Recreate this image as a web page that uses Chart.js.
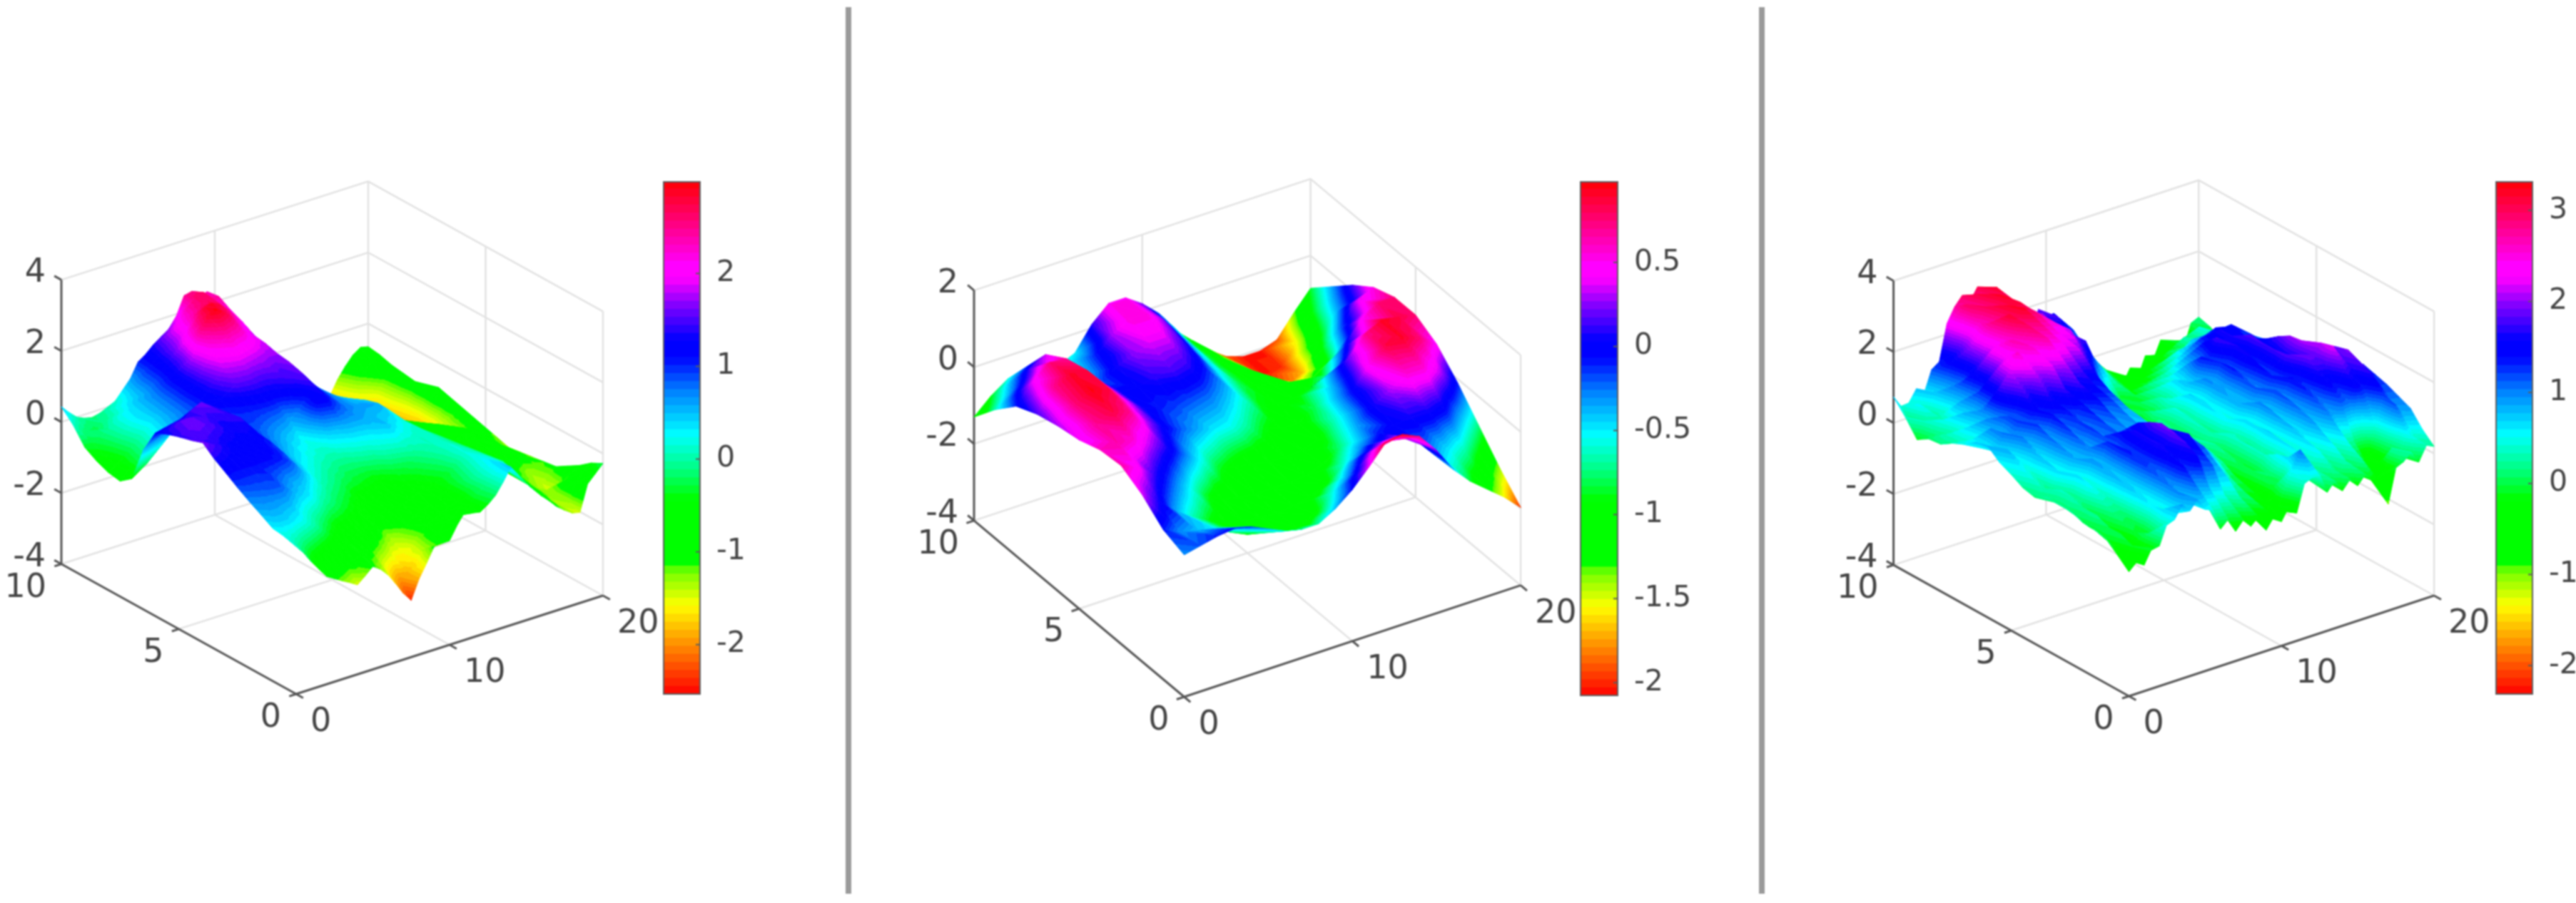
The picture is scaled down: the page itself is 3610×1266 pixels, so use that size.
<!DOCTYPE html>
<html>
<head>
<meta charset="utf-8">
<script src="https://cdn.jsdelivr.net/npm/chart.js@4"></script>
<style>
html, body { margin: 0; background: #fff; }
canvas { position: absolute; filter: blur(0.8px); }
</style>
</head>
<body>
<canvas id="surfaces" width="3610" height="1266" style="left:0;top:0"></canvas>
<canvas id="bar0" style="left:929px;top:254px"></canvas>
<canvas id="bar1" style="left:2214px;top:254px"></canvas>
<canvas id="bar2" style="left:3497px;top:254px"></canvas>
<script>
// tick labels
const xTicks = [0, 10, 20];
const yTicks = [0, 5, 10];
const zTicksA = [-4, -2, 0, 2, 4];
const zTicksB = [-4, -2, 0, 2];
const barTicksA = [-2, -1, 0, 1, 2];
const barTicksB = [-2, -1.5, -1, -0.5, 0, 0.5];
const barTicksC = [-2, -1, 0, 1, 2, 3];

// surface heights, rows from y=10 down to y=0, columns from x=0 to x=20
const heightsA = [
  [.43,.2,0,-.1,-.15, -.1,0,.1,.35,.6, 1,1.15,1.35,1.5,1.65, 1.95,2.45,2.5,2.3,2.35, 1.9,1.75,1.3,1.2,.5, .3,-.2,-.4,-.8,-1, -1.2,-1.4,-1.5,-1.75,-1.95, -1.7,-1.3,-1,-.75,-.6, -.65],
  [.1,-.1,-.2,-.25,-.1, 0,.2,.3,.5,.8, 1.05,1.25,1.5,1.85,2.1, 2.4,2.6,2.65,2.45,2.4, 2,1.7,1.4,1.05,.6, .2,-.1,-.35,-.7,-.9, -1.1,-1.3,-1.45,-1.6,-1.8, -1.75,-1.6,-1.3,-1,-.8, -.7],
  [-.35,-.3,-.2,-.05,.1, .25,.35,.5,.6,.85, 1.1,1.35,1.7,2,2.35, 2.55,2.65,2.6,2.35,2.2, 1.75,1.5,1.2,.85,.45, .1,-.2,-.4,-.7,-.85, -1.1,-1.2,-1.4,-1.5,-1.5, -1.6,-1.65,-1.7,-1.6,-1.2, -.8],
  [-.55,-.45,-.3,-.1,.1, .3,.4,.55,.75,1, 1.2,1.5,2.1,2.5,2.8, 2.85,2.75,2.55,2.3,2.05, 1.7,1.4,1.1,.75,.35, .05,-.2,-.4,-.6,-.8, -1,-1.1,-1.3,-1.4,-1.55, -1.65,-1.7,-1.8,-1.7,-1.3, -.85],
  [-.69,-.55,-.4,-.2,0, .2,.4,.6,.8,1.05, 1.3,1.8,2.5,2.8,2.95, 2.8,2.6,2.3,2.05,1.85, 1.55,1.25,.9,.6,.3, .05,-.2,-.4,-.6,-.75, -.9,-1.05,-1.2,-1.3,-1.4, -1.5,-1.6,-1.85,-1.85,-1.5, -.9],
  [-.75,-.55,-.3,-.1,.1, .3,.5,.65,.85,1.1, 1.3,1.7,2.05,2.2,2.35, 2.25,2.2,2.05,1.9,1.8, 1.5,1.2,.9,.6,.3, 0,-.2,-.35,-.55,-.7, -.85,-.95,-1.1,-1.2,-1.35, -1.5,-1.65,-1.9,-2,-1.65, -.8],
  [-.5,-.35,-.2,0,.2, .4,.6,.75,.9,1.1, 1.3,1.55,1.8,1.85,1.9, 1.85,1.8,1.75,1.7,1.7, 1.35,1.05,.8,.55,.3, .05,-.2,-.35,-.5,-.65, -.8,-.9,-1,-1.1,-1.2, -1.35,-1.5,-1.8,-2.05,-1.6, -.7],
  [.5,.6,.75,.85,.9, 1.05,1.1,1.15,1.1,1.15, 1.2,1.35,1.5,1.55,1.55, 1.5,1.5,1.55,1.5,1.65, 1.3,1.05,.8,.6,.4, .2,0,-.2,-.35,-.5, -.7,-.75,-.85,-1,-1.15, -1.3,-1.5,-1.7,-1.9,-1.4, -.8],
  [1.15,1.2,1.25,1.3,1.35, 1.5,1.6,1.45,1.25,1.1, 1,1.05,1.1,1.15,1.2, 1.2,1.25,1.35,1.45,1.55, 1.2,1,.8,.65,.5, .4,.3,.05,-.2,-.4, -.6,-.65,-.7,-.8,-.9, -1.15,-1.4,-1.55,-1.7,-1.2, -.9],
  [1.3,1.45,1.55,1.55,1.5, 1.45,1.4,1.45,1.35,1.15, .95,.95,.9,.85,.8, .75,.6,.75,1.05,1.4, 1.15,.95,.75,.65,.55, .5,.45,.3,0,-.2, -.55,-.6,-.65,-.7,-.75, -.9,-1.05,-1.15,-1.35,-1.1, -1],
  [1.41,1.5,1.6,1.55,1.5, 1.4,1.3,1.35,1.4,1.15, .9,.8,.7,.6,.5, .4,.25,.6,1.15,1.25, 1,.85,.7,.65,.6, .6,.55,.35,.1,-.2, -.5,-.55,-.6,-.6,-.6, -.7,-.8,-.9,-1,-1.05, -1.1],
  [1.5,1.45,1.45,1.4,1.35, 1.3,1.25,1.3,1.25,1.05, .8,.7,.55,.45,.3, .25,.15,.15,.4,.5, .6,.6,.6,.55,.5, .45,.4,.25,.1,-.1, -.35,-.45,-.55,-.55,-.65, -.7,-.75,-.85,-1,-1.1, -1.2],
  [1.63,1.5,1.4,1.3,1.2, 1.2,1.2,1.2,1.1,1, .7,.55,.4,.3,.2, .1,.05,0,0,.1, .2,.25,.3,.4,.5, .35,.25,.15,.1,-.05, -.2,-.35,-.5,-.55,-.6, -.65,-.7,-.85,-1,-1.15, -1.3],
  [1.35,1.3,1.25,1.2,1.15, 1.15,1.15,1.15,1.05,.9, .6,.45,.25,.15,.05, -.05,-.1,-.2,-.2,-.2, -.15,-.1,.05,.1,.15, .1,.1,.05,.1,0, -.15,-.3,-.5,-.6,-.65, -.7,-.75,-.9,-1,-1.1, -1.25],
  [1.13,1.1,1.1,1.1,1.1, 1.1,1.1,1.05,.95,.75, .5,.3,.1,0,-.1, -.2,-.3,-.35,-.4,-.45, -.5,-.4,-.3,-.25,-.2, -.1,0,.05,.1,0, -.1,-.3,-.5,-.6,-.7, -.75,-.8,-.9,-1,-1.1, -1.2],
  [.9,.95,.95,.95,1, .85,.75,.6,.55,.4, .2,.05,-.1,-.2,-.3, -.4,-.6,-.7,-.7,-.65, -.65,-.6,-.5,-.45,-.35, -.25,-.15,0,.15,.05, -.05,-.25,-.5,-.7,-.85, -.95,-1.05,-1.2,-1.3,-1.2, -1.15],
  [.69,.75,.8,.85,.85, .7,.5,.4,.3,.1, -.1,-.2,-.3,-.4,-.5, -.7,-.9,-.85,-.8,-.8, -.8,-.7,-.6,-.55,-.5, -.4,-.3,-.1,.15,.1, 0,-.2,-.5,-.7,-.9, -1.05,-1.2,-1.3,-1.4,-1.25, -1.1],
  [.5,.6,.6,.55,.5, .3,.15,0,-.15,-.35, -.5,-.55,-.6,-.75,-.85, -.95,-1.2,-1.35,-1.2,-1.1, -.9,-.85,-.75,-.6,-.55, -.35,-.2,0,.2,.15, .05,-.15,-.45,-.7,-.9, -1.1,-1.25,-1.4,-1.5,-1.2, -.9],
  [.3,.4,.4,.3,.2, .05,-.1,-.3,-.5,-.65, -.8,-.85,-.9,-1.05,-1.2, -1.4,-1.6,-1.6,-1.5,-1.2, -1,-.9,-.8,-.7,-.6, -.35,-.1,.1,.3,.2, .1,-.15,-.4,-.65,-.9, -1.1,-1.3,-1.25,-1,-.85, -.7],
  [.25,.1,-.05,-.25,-.4, -.55,-.7,-.85,-1,-1.05, -.95,-1.1,-1.2,-1.5,-1.75, -1.95,-1.85,-1.7,-1.4,-1.1, -1.05,-.8,-.7,-.5,-.55, -.3,-.15,.15,.4,.1, -.05,-.3,-.5,-.75,-1, -1.2,-1.4,-1.3,-.85,-.6, -.45],
  [.18,-.1,-.42,-.7,-.97, -1.1,-1.23,-1.35,-1.48,-1.3, -1.1,-1.25,-1.48,-1.8,-2.14, -2.4,-1.88,-1.5,-1.09,-1.08, -1.07,-.7,-.4,-.5,-.54, -.4,-.21,.1,.45,.15, -.15,-.4,-.64,-.85,-1.08, -1.25,-1.4,-1.45,-.72,-.5, -.28]
];
const heightsB = [
  [-1.3,-.9,-.6,-.7,-.8,-.7,-.5,.1,.5,.5,.2,-.2,-.8,-1.2,-1.6,-1.9,-2.05,-2.05,-1.9,-1.35,-.85],
  [-.65,-.3,.1,.35,-.1,-.5,-.1,.3,.55,.55,.25,-.3,-.8,-1.1,-1.4,-1.8,-2.05,-2.0,-1.5,-.85,-.35],
  [-.1,.4,.75,.7,.2,-.2,.05,.25,.35,.35,.1,-.4,-.8,-1.05,-1.2,-1.55,-1.9,-1.7,-1.0,-.4,.15],
  [.15,.7,.9,.85,.35,0,0,.1,.15,.1,-.1,-.5,-.8,-1.0,-1.1,-1.2,-1.4,-1.1,-.25,.35,.55],
  [.3,.75,.95,.85,.4,.05,-.1,-.15,-.2,-.25,-.4,-.6,-.9,-1.0,-1.0,-.9,-.7,-.1,.45,.75,.75],
  [.4,.7,.85,.7,.3,0,-.2,-.35,-.5,-.55,-.7,-.9,-1.05,-1.05,-.8,-.4,.2,.7,.92,.85,.75],
  [.6,.65,.55,.3,.05,-.25,-.55,-.85,-1.0,-1.1,-1.15,-1.2,-1.15,-1.0,-.6,-.05,.5,.85,.9,.75,.45],
  [.65,.45,.1,-.2,-.5,-.85,-1.1,-1.2,-1.25,-1.25,-1.25,-1.2,-1.05,-.75,-.35,.05,.3,.55,.55,.3,-.1],
  [.35,.05,-.35,-.65,-.9,-1.1,-1.2,-1.25,-1.3,-1.25,-1.15,-.95,-.6,-.3,-.1,0,.05,.05,-.05,-.4,-.75],
  [-.1,-.3,-.4,-.5,-.75,-.95,-1.05,-1.15,-1.2,-1.0,-.6,-.3,.1,.3,.3,.05,-.3,-.5,-.7,-1.05,-1.4],
  [-.3,-.2,-.1,-.05,-.15,-.35,-.55,-.65,-.65,-.4,-.05,.4,.9,.95,.75,.25,-.4,-.85,-1.2,-1.55,-1.97]
];
const heightsC = [
  [.73,.4,.42,.75,.55, 1.15,1.3,2.3,2.7,2.95, 2.7,3.05,2.85,2.8,2.2, 2.15,1.65,1.75,1.3,1.85, 1.55,1.6,1.3,1.05,.2, .25,-.45,-.35,-.75,-.7, -1.05,-.65,-1,-.45,-.65, -.15,-.45,-.35,-.6,.05, .15],
  [.35,.05,.55,.2,.75, .8,1.45,1.7,2.95,2.6, 3.1,2.7,3.15,2.6,2.65, 2.05,2.1,1.5,2,1.35, 1.75,1.05,1.25,.45,.4, -.2,-.15,-.7,-.45,-.9, -.65,-.7,-.55,-.5,-.3, -.25,-.05,-.1,-.05,-.1, .05],
  [-.1,.35,.15,.3,.45, 1.05,1.15,2,2.55,3, 2.75,3.2,2.85,2.85,2.35, 2.45,1.85,1.75,1.55,1.5, 1.25,1.1,.55,.55,-.05, .05,-.55,-.2,-.75,-.4, -.85,-.2,-.65,.05,-.35, .3,-.15,.45,-.05,.1, -.2],
  [.1,.15,.5,.35,.85, .85,1.55,1.85,2.8,2.75, 3.15,3.05,3.1,2.7,2.7, 2.35,2.3,1.75,1.85,1.35, 1.4,.7,.7,.15,.15, -.35,-.3,-.45,-.2,-.25, .05,.05,.1,.15,.3, .3,.35,.25,.4,-.1, -.05],
  [.14,.35,.25,.8,.65, 1.25,1.35,2.35,2.45,3.15, 2.95,3.2,2.75,2.85,2.45, 2.5,2.15,2.15,1.75,1.7, .95,.85,.25,.25,-.25, -.15,-.55,-.05,-.45,.2, -.05,.55,.15,.75,.35, .5,.25,.65,.15,.35, -.1],
  [.35,.3,.65,.55,1, 1.25,2.05,2.25,2.7,2.55, 2.95,2.6,2.8,2.35,2.45, 2.05,2.2,1.75,1.55,.95, .65,.1,.05,-.4,0, -.15,.2,.15,.35,.35, .7,.7,.95,.85,1.05, .8,.85,.6,.75,.2, .15],
  [.5,.55,.45,1,.85, 1.85,2.15,2.6,2.35,2.6, 2.35,2.7,2.25,2.4,1.95, 2.15,1.65,1.45,.45,.35, -.45,.05,-.45,.05,-.15, .3,.05,.5,.35,.9, .75,1.3,.95,1.45,1.05, 1.4,.85,1,.35,.6, .3],
  [.75,.5,1,.75,1.2, 1.15,1.85,1.65,2.05,1.85, 2.2,1.8,2.05,1.6,1.75, 1.25,1.45,.65,.4,-.25, -.2,-.4,.05,-.05,.3, .2,.65,.6,1,.95, 1.45,1.4,1.65,1.25,1.6, 1.05,1.25,.9,.95,.5, .4],
  [.83,.6,1.05,.9,1.25, 1.1,1.45,1.3,1.65,1.4, 1.75,1.35,1.75,1.35,1.55, 1.15,1.25,.45,.15,-.3, -.15,-.2,.25,.05,.45, .35,.75,.75,1.35,1.25, 1.75,1.6,1.65,1.2,1.45, 1.05,1.25,.8,1.05,.55, .5],
  [.55,.85,.55,1.05,.8, 1.25,.9,1.4,1.15,1.35, 1.2,1.4,1.15,1.4,1, 1.2,.7,.85,.3,.4, -.15,.25,.05,.45,.2, .7,.45,1,.8,1.3, 1.2,1.65,1.4,1.8,1.3, 1.55,1.15,1.3,.95,1, .7],
  [.39,.6,.45,.8,.65, 1.1,.85,1.3,1.05,1.25, 1.05,1.3,.95,1.2,.85, 1.05,.55,.8,.25,.35, -.05,.2,.05,.4,.25, .65,.55,.9,.85,1.35, 1.15,1.6,1.25,1.75,1.35, 1.8,1.35,1.5,1.05,1.25, .9],
  [.2,.45,.3,.75,.55, 1,.8,1.15,.9,1.25, 1,1.2,.9,1.05,.8, .95,.6,.7,.35,.45, .05,.2,.1,.35,.2, .6,.5,.85,.8,1.2, 1.05,1.45,1.2,1.75,1.55, 2,1.55,1.65,1.3,1.35, 1.05],
  [.12,.3,.15,.65,.45, .85,.75,1,.85,1.2, .95,1.15,.85,1,.75, 1,.65,.85,.45,.55, .15,.3,.05,.3,.15, .55,.45,.85,.75,1.15, .95,1.35,1.15,1.8,1.45, 2.05,1.65,1.85,1.45,1.5, 1.2],
  [.3,.1,.35,.2,.65, .45,.95,.75,1.3,1.15, 1.45,1.3,1.55,1.1,1.35, .9,1.1,.65,.85,.35, .4,-.05,.25,.05,.4, .3,.65,.5,1,.75, 1.2,1,1.4,1.35,1.9, 1.85,2.1,1.65,1.85,1.3, 1.3],
  [.32,.1,.3,.15,.55, .4,.85,.75,1.35,1.2, 1.65,1.5,1.75,1.3,1.45, 1,1.15,.7,.75,.3, .35,-.1,.15,0,.35, .2,.65,.45,.95,.7, 1.15,.9,1.35,1.2,1.65, 1.7,2.2,1.75,1.95,1.4, 1.4],
  [.3,.05,.2,-.05,.35, .3,.8,.7,1.3,1.25, 1.65,1.5,1.9,1.4,1.55, 1.1,1.2,.65,.75,.2, .25,-.2,.05,-.05,.35, .25,.7,.4,.85,.6, 1.05,.85,1.2,1.05,1.45, 1.3,1.75,1.6,1.8,1.25, 1.3],
  [.17,-.05,.2,-.1,.15, .15,.75,.65,1.25,1.2, 1.65,1.55,1.85,1.45,1.65, 1.15,1.15,.55,.55,0, .05,-.3,.05,-.05,.35, .2,.65,.4,.75,.6, .95,.7,1.05,.85,1.15, 1.05,1.45,1.3,1.65,1.2, 1.2],
  [.15,-.05,.05,-.25,.05, 0,.65,.55,1.15,1.05, 1.55,1.4,1.75,1.2,1.4, .9,.9,.35,.3,-.1, -.05,-.4,0,.1,.55, .3,.6,.4,.65,.4, .75,.4,.75,.25,.25, -.35,-.35,.45,1.25,1, 1.05],
  [.08,-.2,.05,-.35,-.05, -.1,.55,.5,1.05,.95, 1.45,1.2,1.55,1.05,1.15, .6,.65,.1,.15,-.3, -.15,-.45,-.05,0,.65, .35,.55,.3,.55,.2, .55,.15,.45,-.05,-.15, -.55,-.35,.15,1.15,.8, .9],
  [-.2,-.4,-.1,-.45,.1, .05,.65,.45,1,.65, 1.15,.7,.85,.3,.5, -.05,.3,-.2,.05,-.45, -.25,-.45,.15,.6,1.05, .15,.35,0,.25,.05, .3,-.1,.25,-.35,-.45, -.35,.25,-.05,.55,.35, .5],
  [-.5,-.3,-.45,-.05,-.05, .5,.55,.9,.65,.9, .55,.45,-.15,.05,-.35, -.1,-.35,-.15,-.6,-.3, -.5,-.15,-.4,.35,.45, .45,-.1,.15,-.2,.05, -.2,.05,-.2,-.35,-1, -.05,.05,.25,-.1,.3, .2]
];

// colour map stops: position on the colour bar, r, g, b
const colourStops = [
  [0, 255, 0, 0], [0.173, 255, 255, 0], [0.241, 110, 255, 0], [0.249, 0, 255, 0],
  [0.38, 0, 255, 0], [0.437, 0, 255, 128], [0.505, 0, 255, 255], [0.59, 0, 128, 255],
  [0.657, 0, 0, 255], [0.69, 0, 0, 255], [0.756, 128, 0, 255], [0.81, 255, 0, 255],
  [0.836, 255, 0, 255], [0.916, 255, 0, 128], [1, 255, 0, 0]
];
const bandCount = 64;

function colourAt(t) {
  for (let i = 1; i < colourStops.length; i++) {
    const a = colourStops[i - 1], b = colourStops[i];
    if (t <= b[0]) {
      const f = (t - a[0]) / (b[0] - a[0]);
      return 'rgb(' + [1, 2, 3].map(k => Math.round(a[k] + (b[k] - a[k]) * f)).join(',') + ')';
    }
  }
  return 'rgb(255,0,0)';
}
const bandColours = [];
for (let i = 0; i < bandCount; i++) bandColours.push(colourAt((i + 0.5) / bandCount));

const panels = [
  { heights: heightsA, zTicks: zTicksA, zMin: -4, zMax: 4, cLo: -2.54, cHi: 2.995,
    o: [415, 973], xv: [21.5, -6.9], yv: [-32.9, -18.22], k: 49.8 },
  { heights: heightsB, zTicks: zTicksB, zMin: -4, zMax: 2, cLo: -2.08, cHi: 0.983,
    o: [1659.5, 977], xv: [23.58, -7.815], yv: [-29.45, -24.71], k: 53.8 },
  { heights: heightsC, zTicks: zTicksA, zMin: -4, zMax: 4, cLo: -2.32, cHi: 3.32,
    o: [2983.5, 976], xv: [21.38, -7.05], yv: [-32.99, -18.39], k: 49.8 }
];

function project(p, x, y, z) {
  return {
    x: p.o[0] + x * p.xv[0] + y * p.yv[0],
    y: p.o[1] + x * p.xv[1] + y * p.yv[1] - (z - p.zMin) * p.k
  };
}

function lineSet(points, colour, width) {
  return { type: 'scatter', data: points, showLine: true, pointRadius: 0, borderColor: colour, borderWidth: width };
}

const gridColour = '#e2e2e2', axisColour = '#565656';
const datasets = [];

// separators between the panels
datasets.push(lineSet([{ x: 1189, y: 10 }, { x: 1189, y: 1253 }], '#9a9a9a', 8));
datasets.push(lineSet([{ x: 2469, y: 10 }, { x: 2469, y: 1253 }], '#9a9a9a', 8));

panels.forEach(p => {
  const P = (x, y, z) => project(p, x, y, z);
  // axis lines go first in the list so they sit on top of the grid
  datasets.push(lineSet([P(0, 10, p.zMin), P(0, 10, p.zMax)], axisColour, 3));
  datasets.push(lineSet([P(0, 10, p.zMin), P(0, 0, p.zMin)], axisColour, 3));
  datasets.push(lineSet([P(0, 0, p.zMin), P(20, 0, p.zMin)], axisColour, 3));
  xTicks.forEach(v => datasets.push(lineSet([P(v, 0, p.zMin), P(v, -0.3, p.zMin)], axisColour, 3)));
  yTicks.forEach(v => datasets.push(lineSet([P(0, v, p.zMin), P(-0.45, v, p.zMin)], axisColour, 3)));
  p.zTicks.forEach(v => datasets.push(lineSet([P(0, 10, v), P(0, 10.3, v)], axisColour, 3)));
  // back walls and floor
  p.zTicks.forEach(v => {
    datasets.push(lineSet([P(0, 10, v), P(20, 10, v), P(20, 0, v)], gridColour, 2.5));
  });
  datasets.push(lineSet([P(10, 0, p.zMin), P(10, 10, p.zMin), P(10, 10, p.zMax)], gridColour, 2.5));
  datasets.push(lineSet([P(0, 5, p.zMin), P(20, 5, p.zMin), P(20, 5, p.zMax)], gridColour, 2.5));
  datasets.push(lineSet([P(20, 10, p.zMin), P(20, 10, p.zMax)], gridColour, 2.5));
  datasets.push(lineSet([P(20, 0, p.zMin), P(20, 0, p.zMax)], gridColour, 2.5));
});

// one triangle whose colour follows the height linearly across it
function fillTriangle(ctx, p, a, b, c) {
  const lo = Math.min(a.z, b.z, c.z), hi = Math.max(a.z, b.z, c.z);
  const toT = z => Math.min(0.9999, Math.max(0, (z - p.cLo) / (p.cHi - p.cLo)));
  const dx1 = b.px - a.px, dy1 = b.py - a.py, dx2 = c.px - a.px, dy2 = c.py - a.py;
  const det = dx1 * dy2 - dy1 * dx2;
  let paint;
  if (hi - lo < 1e-4 || Math.abs(det) < 1e-3) {
    paint = bandColours[Math.floor(toT((lo + hi) / 2) * bandCount)];
  } else {
    const dz1 = b.z - a.z, dz2 = c.z - a.z;
    const gx = (dz1 * dy2 - dz2 * dy1) / det, gy = (dz2 * dx1 - dz1 * dx2) / det;
    const g2 = gx * gx + gy * gy;
    paint = ctx.createLinearGradient(
      a.px + gx * (lo - a.z) / g2, a.py + gy * (lo - a.z) / g2,
      a.px + gx * (hi - a.z) / g2, a.py + gy * (hi - a.z) / g2);
    const i0 = Math.floor(toT(lo) * bandCount), i1 = Math.floor(toT(hi) * bandCount);
    const offset = z => Math.min(1, Math.max(0, (z - lo) / (hi - lo)));
    for (let i = i0; i <= i1; i++) {
      const zs = p.cLo + (p.cHi - p.cLo) * i / bandCount;
      const ze = p.cLo + (p.cHi - p.cLo) * (i + 1) / bandCount;
      paint.addColorStop(i === i0 ? 0 : offset(zs), bandColours[i]);
      paint.addColorStop(i === i1 ? 1 : offset(ze), bandColours[i]);
    }
  }
  ctx.fillStyle = paint;
  ctx.strokeStyle = paint;
  ctx.lineWidth = 1;
  ctx.beginPath();
  ctx.moveTo(a.px, a.py);
  ctx.lineTo(b.px, b.py);
  ctx.lineTo(c.px, c.py);
  ctx.closePath();
  ctx.fill();
  ctx.stroke();
}

const surfacePlugin = {
  id: 'surface',
  afterDatasetsDraw(chart) {
    const ctx = chart.ctx, sx = chart.scales.x, sy = chart.scales.y;
    panels.forEach(p => {
      const rows = p.heights.length, cols = p.heights[0].length;
      const node = (r, c) => {
        const x = c * 20 / (cols - 1), y = 10 - r * 10 / (rows - 1), z = p.heights[r][c];
        const q = project(p, x, y, z);
        return { px: sx.getPixelForValue(q.x), py: sy.getPixelForValue(q.y), z };
      };
      // back corner first, front corner last
      for (let c = cols - 2; c >= 0; c--) {
        for (let r = 0; r < rows - 1; r++) {
          const a = node(r, c), b = node(r, c + 1), d = node(r + 1, c), e = node(r + 1, c + 1);
          fillTriangle(ctx, p, a, b, e);
          fillTriangle(ctx, p, a, e, d);
        }
      }
    });
  },
  afterDraw(chart) {
    const ctx = chart.ctx, sx = chart.scales.x, sy = chart.scales.y;
    ctx.save();
    ctx.font = '46px "DejaVu Sans"';
    ctx.fillStyle = '#444444';
    ctx.textBaseline = 'middle';
    const at = (q, dx, dy, text, align) => {
      ctx.textAlign = align;
      ctx.fillText(text, sx.getPixelForValue(q.x) + dx, sy.getPixelForValue(q.y) + dy);
    };
    panels.forEach(p => {
      p.zTicks.forEach(v => at(project(p, 0, 10, v), -22, -9, String(v), 'right'));
      xTicks.forEach(v => at(project(p, v, 0, p.zMin), 20, 40, String(v), 'left'));
      yTicks.forEach(v => at(project(p, 0, v, p.zMin), -21, 34, String(v), 'right'));
    });
    ctx.restore();
  }
};

new Chart(document.getElementById('surfaces'), {
  type: 'scatter',
  data: { datasets },
  options: {
    responsive: false,
    animation: false,
    events: [],
    plugins: { legend: { display: false }, tooltip: { enabled: false } },
    scales: {
      x: { type: 'linear', min: 0, max: 3610, display: false },
      y: { type: 'linear', min: 0, max: 1266, reverse: true, display: false }
    }
  },
  plugins: [surfacePlugin]
});

// colour bars
const barFrame = {
  id: 'barFrame',
  afterDatasetsDraw(chart) {
    const ctx = chart.ctx, a = chart.chartArea, s = chart.scales.y;
    ctx.save();
    ctx.strokeStyle = '#5c5c5c';
    ctx.lineWidth = 2;
    ctx.strokeRect(a.left + 1, a.top + 1, a.right - a.left - 2, a.bottom - a.top - 2);
    s.ticks.forEach(t => {
      const y = s.getPixelForValue(t.value);
      ctx.beginPath();
      ctx.moveTo(a.right - 7, y);
      ctx.lineTo(a.right, y);
      ctx.stroke();
    });
    ctx.restore();
  }
};

function makeBar(id, p, ticks, barWidth, canvasWidth, barHeight) {
  const el = document.getElementById(id);
  el.width = canvasWidth;
  el.height = barHeight;
  const step = (p.cHi - p.cLo) / bandCount;
  new Chart(el, {
    type: 'bar',
    data: {
      labels: [''],
      datasets: bandColours.map((c, i) => ({
        data: [[p.cLo + i * step, p.cLo + (i + 1) * step + step * 0.05]],
        backgroundColor: c, borderWidth: 0, barPercentage: 1, categoryPercentage: 1
      }))
    },
    options: {
      responsive: false,
      animation: false,
      events: [],
      plugins: { legend: { display: false }, tooltip: { enabled: false } },
      layout: { padding: 0 },
      scales: {
        x: { display: false, stacked: true },
        y: {
          position: 'right', min: p.cLo, max: p.cHi,
          grid: { display: false },
          border: { display: false },
          afterBuildTicks: s => { s.ticks = ticks.map(v => ({ value: v })); },
          afterFit: s => { s.width = canvasWidth - barWidth; s.paddingTop = 0; s.paddingBottom = 0; },
          ticks: {
            padding: 14, color: '#444444', autoSkip: false, maxRotation: 0,
            font: { family: 'DejaVu Sans', size: 41 },
            callback: v => String(v)
          }
        }
      }
    },
    plugins: [barFrame]
  });
}

makeBar('bar0', panels[0], barTicksA, 53, 130, 720);
makeBar('bar1', panels[1], barTicksB, 54, 175, 722);
makeBar('bar2', panels[2], barTicksC, 53, 113, 720);
</script>
</body>
</html>
